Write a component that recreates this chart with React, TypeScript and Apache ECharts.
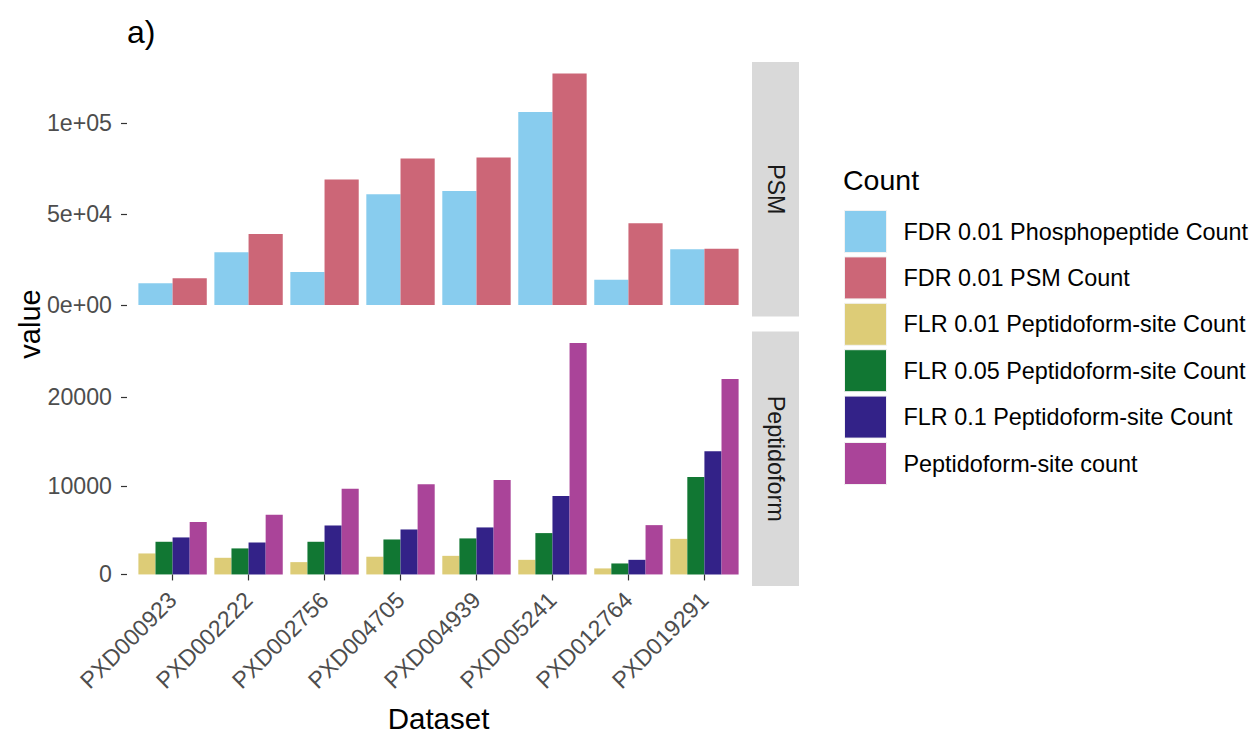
import React, { useEffect, useRef } from "react";
import * as echarts from "echarts";

const categories = ["PXD000923", "PXD002222", "PXD002756", "PXD004705", "PXD004939", "PXD005241", "PXD012764", "PXD019291"];

const fdrPhospho = [11900, 28950, 18100, 60800, 62600, 106000, 13900, 30600];
const fdrPsm = [14650, 39000, 68900, 80400, 81000, 127100, 44900, 30800];
const flr001 = [2370, 1880, 1390, 2000, 2100, 1650, 680, 4020];
const flr005 = [3690, 2940, 3690, 3950, 4070, 4670, 1240, 11000];
const flr01 = [4180, 3610, 5530, 5080, 5310, 8850, 1650, 13930];
const siteCount = [5910, 6740, 9680, 10200, 10660, 26140, 5570, 22070];

const psmTickValues = [0, 50000, 100000];
const psmTickLabels = ["0e+00", "5e+04", "1e+05"];
const pepTickValues = [0, 10000, 20000];
const pepTickLabels = ["0", "10000", "20000"];

const seriesNames = [
  "FDR 0.01 Phosphopeptide Count",
  "FDR 0.01 PSM Count",
  "FLR 0.01 Peptidoform-site Count",
  "FLR 0.05 Peptidoform-site Count",
  "FLR 0.1 Peptidoform-site Count",
  "Peptidoform-site count",
];
const colors = ["#88CCEE", "#CC6677", "#DDCC77", "#117733", "#332288", "#AA4499"];
const facetNames = ["PSM", "Peptidoform"];

const FONT = "'Liberation Sans', Arial, sans-serif";

export default function App() {
  const ref = useRef<HTMLDivElement>(null);
  useEffect(() => {
    if (!ref.current) return;
    const chart = echarts.init(ref.current, null, { renderer: "svg" });

    const panelLeft = 127;
    const panelRight = 750;
    const panelW = panelRight - panelLeft;
    const unit = panelW / (categories.length + 0.2);
    const gridLeft = panelLeft + 0.1 * unit;
    const gridW = unit * categories.length;
    const top1 = 62, h = 254.5, top2 = 331.5;

    const psmMax = Math.max(...fdrPhospho, ...fdrPsm);
    const pepMax = Math.max(...flr001, ...flr005, ...flr01, ...siteCount);

    const yBase = (gi: number, max: number, vals: number[], labels: string[]) => ({
      type: "value",
      gridIndex: gi,
      min: -0.05 * max,
      max: 1.05 * max,
      offset: gridLeft - panelLeft,
      axisLine: { show: false },
      splitLine: { show: false },
      axisTick: { show: true, length: 6, lineStyle: { color: "#333333", width: 1.2 }, customValues: vals },
      axisLabel: {
        customValues: vals,
        margin: 15,
        fontSize: 23.2,
        fontFamily: FONT,
        color: "#4D4D4D",
        formatter: (v: number) => {
          const i = vals.indexOf(v);
          return i >= 0 ? labels[i] : "";
        },
      },
    });

    const data = [fdrPhospho, fdrPsm, flr001, flr005, flr01, siteCount];
    const series = data.map((d, i) => ({
      name: seriesNames[i],
      type: "bar",
      xAxisIndex: i < 2 ? 0 : 1,
      yAxisIndex: i < 2 ? 0 : 1,
      data: d,
      barWidth: i < 2 ? "45%" : "22.5%",
      barGap: "0%",
      itemStyle: { color: colors[i] },
    }));

    const strip = (top: number, label: string) => [
      { type: "rect", shape: { x: 752, y: top, width: 47, height: h }, style: { fill: "#D9D9D9" }, silent: true },
      {
        type: "text",
        x: 775.5,
        y: top + h / 2,
        rotation: -Math.PI / 2,
        style: { text: label, fontSize: 23.4, fontFamily: FONT, fill: "#1A1A1A", align: "center", verticalAlign: "middle" },
      },
    ];

    chart.setOption({
      animation: false,
      backgroundColor: "#FFFFFF",
      grid: [
        { left: gridLeft, top: top1, width: gridW, height: h },
        { left: gridLeft, top: top2, width: gridW, height: h },
      ],
      xAxis: [
        { type: "category", gridIndex: 0, data: categories, axisLine: { show: false }, axisTick: { show: false }, axisLabel: { show: false } },
        {
          type: "category",
          gridIndex: 1,
          data: categories,
          axisLine: { show: false },
          axisTick: { show: true, alignWithLabel: true, length: 6, lineStyle: { color: "#333333", width: 1.2 } },
          axisLabel: { rotate: 45, margin: 10, padding: [18, 0, 0, 0], fontSize: 23.2, fontFamily: FONT, color: "#4D4D4D", interval: 0 },
        },
      ],
      yAxis: [yBase(0, psmMax, psmTickValues, psmTickLabels), yBase(1, pepMax, pepTickValues, pepTickLabels)],
      legend: {
        orient: "vertical",
        left: 844,
        top: 210,
        padding: 0,
        icon: "rect",
        itemWidth: 42,
        itemHeight: 42,
        itemGap: 3.4,
        data: seriesNames,
        itemStyle: { borderColor: "#F2F2F2", borderWidth: 1 },
        textStyle: { fontSize: 23.4, fontFamily: FONT, color: "#000000", padding: [0, 0, 0, 12] },
        selectedMode: false,
      },
      graphic: [
        ...strip(top1, facetNames[0]),
        ...strip(top2, facetNames[1]),
        {
          type: "text",
          x: 30,
          y: top1 + (top2 + h - top1) / 2,
          rotation: Math.PI / 2,
          style: { text: "value", fontSize: 29, fontFamily: FONT, fill: "#000000", align: "center", verticalAlign: "middle" },
        },
        {
          type: "text",
          x: panelLeft + panelW / 2,
          y: 718,
          style: { text: "Dataset", fontSize: 29.5, fontFamily: FONT, fill: "#000000", align: "center", verticalAlign: "middle" },
        },
        {
          type: "text",
          x: 843,
          y: 180,
          style: { text: "Count", fontSize: 28.5, fontFamily: FONT, fill: "#000000", align: "left", verticalAlign: "middle" },
        },
        {
          type: "text",
          x: 127,
          y: 32,
          style: { text: "a)", fontSize: 32, fontFamily: FONT, fill: "#000000", align: "left", verticalAlign: "middle" },
        },
      ],
      series,
    });
    return () => chart.dispose();
  }, []);
  return <div ref={ref} style={{ position: "fixed", left: 0, top: 0, width: 1257, height: 739 }} />;
}
